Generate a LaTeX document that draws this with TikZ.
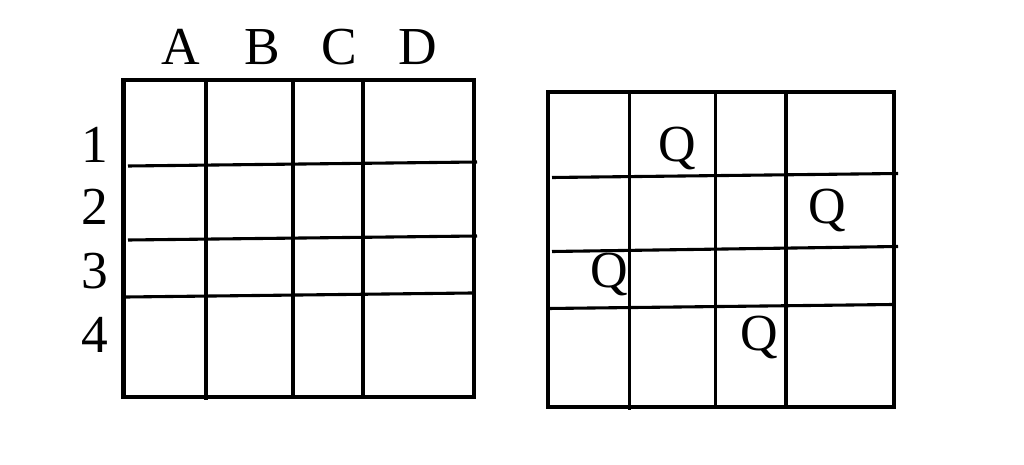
\documentclass[tikz,border=0pt]{standalone}
\usepackage{fontspec}
\setmainfont{Liberation Serif}
\usepackage{tikz}
\usetikzlibrary{positioning}

\tikzset{
	frame/.style = {line width=2.9pt, line join=miter},
	gridline/.style = {line width=2.2pt},
	lbl/.style = {anchor=base, inner sep=0pt, font=\fontsize{38}{40}\selectfont},
	queen/.style = {anchor=base, inner sep=0pt, font=\fontsize{37}{40}\selectfont}
}

\begin{document}
\begin{tikzpicture}[x=0.025cm, y=-0.025cm]
		\useasboundingbox (0,0) rectangle (1024,465);
		
		%----------------------------------------------------------------
		% left board with column and row labels
		\node(colA) [lbl] at (181,65) {A};
		\node(colB) [lbl] at (262,65) {B};
		\node(colC) [lbl] at (339,65) {C};
		\node(colD) [lbl] at (418,65) {D};
		
		\node(row1) [lbl] at (95,163) {1};
		\node(row2) [lbl] at (95,225) {2};
		\node(row3) [lbl] at (95,288) {3};
		\node(row4) [lbl] at (95,352) {4};
		
		\draw [gridline] (206,80) -- (206,400);
		\draw [gridline] (293,80) -- (293,397);
		\draw [gridline] (363,80) -- (363,397);
		
		\draw [gridline] (128,166) -- (477,162);
		\draw [gridline] (128,240) -- (477,236);
		\draw [gridline] (126,297) -- (472,293);
		
		\draw [frame] (123.5,80) rectangle (474,397);
		
		%----------------------------------------------------------------
		% right board with four queens
		\draw [gridline] (629.5,92) -- (629.5,410);
		\draw [gridline] (715.5,92) -- (715.5,407);
		\draw [gridline] (786,92) -- (786,407);
		
		\draw [gridline] (552,177.5) -- (898,173.5);
		\draw [gridline] (552,251.5) -- (898,246.5);
		\draw [gridline] (548,308.5) -- (893,304.5);
		
		\draw [frame] (548,92) rectangle (894,407);
		
		\node(q1) [queen] at (677,162) {Q};
		\node(q2) [queen] at (827,224) {Q};
		\node(q3) [queen] at (609,287) {Q};
		\node(q4) [queen] at (759,350) {Q};
		
	\end{tikzpicture}
\end{document}
